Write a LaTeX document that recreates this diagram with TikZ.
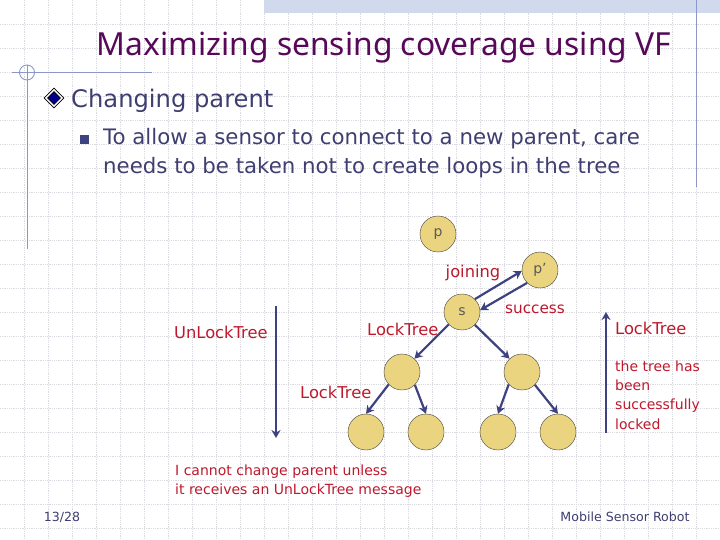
\documentclass[tikz,border=0pt]{standalone}
\usepackage{fontspec}
\setmainfont{DejaVu Sans}
\newfontfamily\titlefont{Noto Sans}
\usetikzlibrary{arrows.meta, shapes.geometric}
\definecolor{TitleColor}{RGB}{88,8,88}
\definecolor{BodyColor}{RGB}{62,62,112}
\definecolor{LabelColor}{RGB}{190,24,44}
\definecolor{ArrowColor}{RGB}{62,66,128}
\definecolor{SensorColor}{RGB}{234,212,128}
\definecolor{RuleColor}{RGB}{140,150,200}
\definecolor{GridColor}{RGB}{218,218,224}
\definecolor{BandColor}{RGB}{208,218,236}
\tikzset{
  sensor/.style={circle, draw=black!75, fill=SensorColor, minimum size=36pt, inner sep=0pt, font=\fontsize{14}{16}\selectfont, text=black!65},
  link/.style={ArrowColor, line width=2.2pt, -{Stealth[length=8pt,width=9pt]}},
  msg/.style={LabelColor, inner sep=0pt, font=\fontsize{16.3}{19}\selectfont},
  note/.style={LabelColor, inner sep=0pt, align=left, font=\fontsize{14}{19.4}\selectfont},
  edgeline/.style={RuleColor, line width=0.9pt}
}
\begin{document}
\begin{tikzpicture}[x=1pt,y=-1pt]
  \useasboundingbox (0,0) rectangle (720,540);
  % Background grid
  \foreach \x in {1,...,29} {
    \draw[GridColor, densely dotted, line width=0.8pt] (24*\x,0) -- (24*\x,540);
  }
  \foreach \y in {1,...,22} {
    \draw[GridColor, densely dotted, line width=0.8pt] (0,24*\y) -- (720,24*\y);
  }
  \fill[BandColor] (264,0) rectangle (720,13);

  % Frame lines
  \draw[edgeline] (12,72) -- (152,72);
  \draw[edgeline] (27,65) -- (27,249);
  \draw[edgeline] (27,72.5) circle (7.5);
  \draw[edgeline] (696.5,0) -- (696.5,187);

  % Slide text
  \node[TitleColor, inner sep=0pt, font=\titlefont\fontsize{31.8}{36}\selectfont] (title) at (384,48) {Maximizing sensing coverage using VF};
  \node[diamond, draw=black, fill=white, minimum size=20pt, inner sep=0pt, line width=0.6pt] (mark) at (54,98) {};
  \node[diamond, draw=black, fill=blue!55!black, minimum size=13pt, inner sep=0pt, line width=0.6pt] (markin) at (54,98) {};
  \node[BodyColor, anchor=west, inner sep=0pt, font=\fontsize{24.2}{28}\selectfont] (head) at (71,101) {Changing parent};
  \node[rectangle, fill=ArrowColor, minimum size=9pt, inner sep=0pt] (bullet) at (84.5,139.5) {};
  \node[BodyColor, anchor=west, inner sep=0pt, align=left, font=\fontsize{21.3}{29}\selectfont] (body) at (103,153) {To allow a sensor to connect to a new parent, care\\needs to be taken not to create loops in the tree};

  % Sensors
  \node[sensor] (p) at (438,234) {p};
  \node[sensor] (pnew) at (540,270) {p'};
  \node[sensor] (s) at (462,312) {s};
  \node[sensor] (left) at (402,372) {};
  \node[sensor] (right) at (522,372) {};
  \node[sensor] (leafa) at (366,432) {};
  \node[sensor] (leafb) at (426,432) {};
  \node[sensor] (leafc) at (498,432) {};
  \node[sensor] (leafd) at (558,432) {};

  % Links
  \draw[link] (s.45) -- (pnew.183);
  \draw[link] (pnew.225) -- (s.6);
  \draw[link] (s.223) -- (left.47);
  \draw[link] (s.-45) -- (right.133);
  \draw[link] (left.223) -- (leafa.90);
  \draw[link] (left.-45) -- (leafb.90);
  \draw[link] (right.223) -- (leafc.90);
  \draw[link] (right.-45) -- (leafd.90);

  % Message direction
  \coordinate (downa) at (276,306);
  \coordinate (downb) at (276,438);
  \coordinate (upa) at (606,433);
  \coordinate (upb) at (606,312);
  \draw[link] (downa) -- (downb);
  \draw[link] (upa) -- (upb);

  % Labels
  \node[msg] (joining) at (473,273) {joining};
  \node[msg, font=\fontsize{15.3}{19}\selectfont] (success) at (535,309) {success};
  \node[msg, anchor=west] (unlock) at (174,332) {UnLockTree};
  \node[msg, anchor=west] (locka) at (367,329) {LockTree};
  \node[msg, anchor=west] (lockb) at (300,392) {LockTree};
  \node[msg, anchor=west] (lockc) at (615,328) {LockTree};
  \node[note, anchor=west] (locked) at (615,395) {the tree has\\been\\successfully\\locked};
  \node[note, anchor=west] (cannot) at (175,481) {I cannot change parent unless\\it receives an UnLockTree message};

  % Footer
  \node[BodyColor, inner sep=0pt, font=\fontsize{12.6}{14}\selectfont] (page) at (62,517) {13/28};
  \node[BodyColor, inner sep=0pt, font=\fontsize{12.6}{14}\selectfont] (robot) at (625,517) {Mobile Sensor Robot};
\end{tikzpicture}
\end{document}
